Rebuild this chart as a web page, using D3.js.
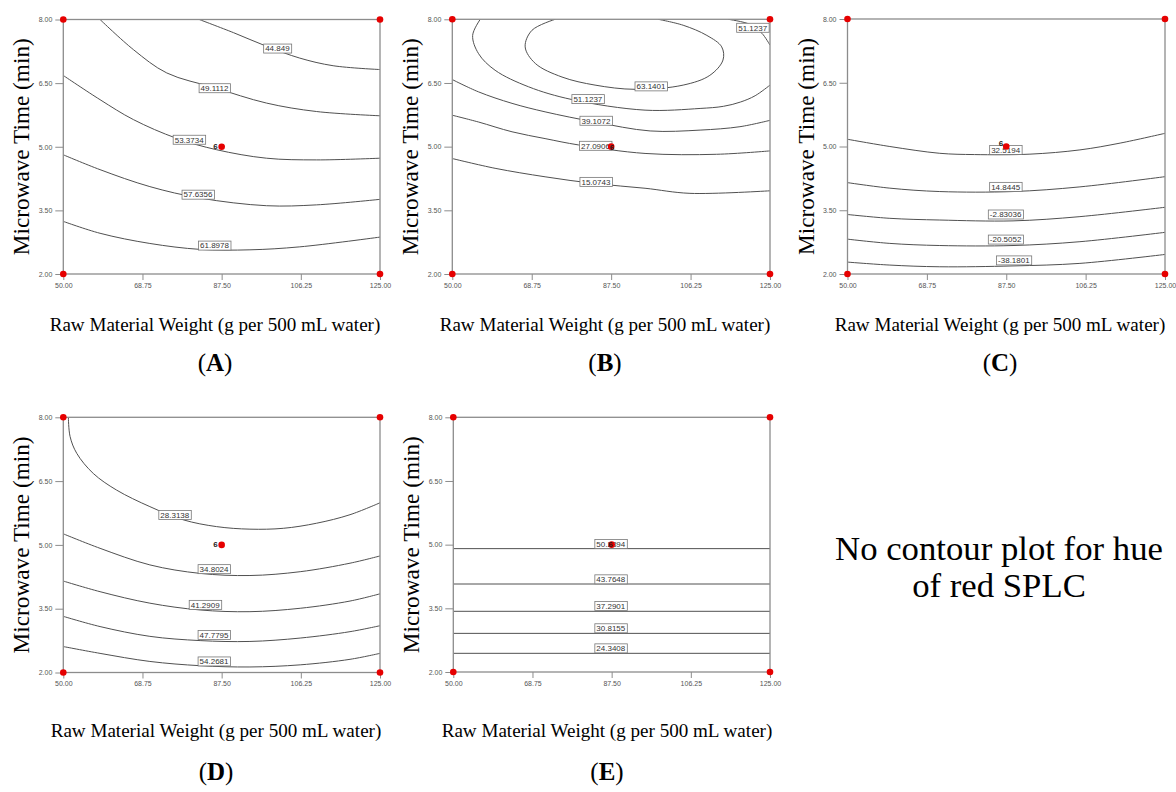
<!DOCTYPE html>
<html>
<head>
<meta charset="utf-8">
<script src="https://cdn.jsdelivr.net/npm/d3@7"></script>
<style>
  body { margin: 0; background: #fff; }
</style>
</head>
<body>
<svg id="fig" width="1176" height="792"></svg>
<script>
// axis ticks shared by all five panels
var weightTicks = [50, 68.75, 87.5, 106.25, 125],
    timeTicks = [2, 3.5, 5, 6.5, 8];

// design points (corners + centre point with 6 replicates)
var designPoints = [[50, 2], [50, 8], [125, 2], [125, 8], [87.5, 5]];
var centerRuns = "6";

// contour lines: [weight, time] pairs
var contoursA = [
  {level: "44.849",  label: [100.7, 7.315], points: [[82.2, 8], [90.3, 7.69], [98.1, 7.37], [106, 7.09], [113.9, 6.91], [125, 6.82]]},
  {level: "49.1112", label: [85.8, 6.38],   points: [[58.7, 8], [66.6, 7.29], [74.5, 6.74], [85.9, 6.39], [98.1, 6.03], [110, 5.83], [125, 5.73]]},
  {level: "53.3734", label: [79.8, 5.165],  points: [[50, 6.68], [58.7, 6.11], [66.6, 5.64], [76.8, 5.2], [86.3, 4.93], [98.1, 4.73], [110, 4.69], [125, 4.73]]},
  {level: "57.6356", label: [81.9, 3.87],   points: [[50, 4.81], [58.7, 4.46], [70.5, 4.06], [82.4, 3.79], [98.1, 3.61], [110, 3.63], [125, 3.76]]},
  {level: "61.8978", label: [85.8, 2.67],   points: [[50, 3.24], [58.7, 2.96], [70.5, 2.72], [82.4, 2.58], [94.2, 2.57], [106, 2.64], [125, 2.87]]}
];

var contoursB = [
  {level: "63.1401", label: [96.9, 6.42], points: [[74.3, 8], [68.8, 7.74], [67.2, 7.35], [69.6, 6.96], [75.9, 6.64], [83.7, 6.45], [93.2, 6.35], [104.5, 6.45], [110.8, 6.68], [113.9, 7.04], [113.6, 7.35], [110.1, 7.62], [104.5, 7.86], [98.6, 8]]},
  {level: "51.1237", label: [82.0, 6.12], points: [[56.6, 8], [54.8, 7.62], [56.2, 7.19], [60.1, 6.8], [68, 6.41], [78.2, 6.11], [95.5, 5.86], [108.5, 5.9], [114, 5.95], [118, 6.05], [121.5, 6.2], [125, 6.45]]},
  {level: "51.1237", label: [120.9, 7.8], points: [[115.1, 8], [120.3, 7.88], [123.1, 7.67], [125, 7.39]]},
  {level: "39.1072", label: [83.9, 5.61], points: [[50, 6.58], [56.2, 6.29], [64.1, 6.02], [71.9, 5.82], [83.7, 5.58], [96.7, 5.37], [108.5, 5.39], [117.9, 5.47], [125, 5.62]]},
  {level: "27.0906", label: [83.8, 5.02], points: [[50, 5.74], [56.2, 5.58], [64.1, 5.35], [71.9, 5.19], [79.8, 5.04], [95.5, 4.84], [112.4, 4.82], [125, 4.9]]},
  {level: "15.0743", label: [83.9, 4.17], points: [[50, 4.72], [60.1, 4.49], [71.9, 4.29], [83.7, 4.13], [95.5, 4.02], [106.1, 3.9], [125, 3.96]]}
];

var contoursC = [
  {level: "32.5194",  label: [87.35, 4.92], points: [[50, 5.17], [60, 5.0], [71.8, 4.84], [80, 4.81], [93.1, 4.82], [104.9, 4.92], [114.4, 5.08], [125, 5.31]]},
  {level: "14.8445",  label: [87.35, 4.05], points: [[50, 4.15], [60, 4.02], [71.8, 3.94], [89.1, 3.94], [104.9, 4.05], [125, 4.29]]},
  {level: "-2.83036", label: [87.35, 3.40], points: [[50, 3.4], [60, 3.31], [71.8, 3.27], [89.1, 3.25], [104.9, 3.35], [125, 3.57]]},
  {level: "-20.5052", label: [87.35, 2.81], points: [[50, 2.82], [60, 2.72], [71.8, 2.67], [89.1, 2.67], [104.9, 2.76], [125, 2.98]]},
  {level: "-38.1801", label: [89.3, 2.32],  points: [[50, 2.28], [60, 2.21], [71.8, 2.17], [89.1, 2.19], [104.9, 2.25], [125, 2.46]]}
];

var contoursD = [
  {level: "28.3138", label: [76.4, 5.705], points: [[51.2, 8], [51.6, 7.55], [53.2, 7.15], [57.1, 6.68], [62.6, 6.29], [70.5, 5.9], [78.4, 5.59], [86.3, 5.43], [94.2, 5.37], [102.1, 5.39], [110, 5.51], [117.9, 5.71], [125, 5.99]]},
  {level: "34.8024", label: [85.7, 4.43],  points: [[50, 5.26], [58.7, 4.92], [70.5, 4.53], [82.4, 4.33], [94.2, 4.28], [106.1, 4.37], [117.9, 4.57], [125, 4.74]]},
  {level: "41.2909", label: [83.6, 3.59],  points: [[50, 4.15], [58.7, 3.9], [70.5, 3.63], [82.4, 3.47], [94.2, 3.43], [106.1, 3.51], [117.9, 3.68], [125, 3.85]]},
  {level: "47.7795", label: [85.7, 2.88],  points: [[50, 3.32], [58.7, 3.08], [70.5, 2.85], [82.4, 2.75], [94.2, 2.73], [106.1, 2.81], [117.9, 2.96], [125, 3.1]]},
  {level: "54.2681", label: [85.7, 2.26],  points: [[50, 2.61], [58.7, 2.45], [70.5, 2.26], [82.4, 2.16], [94.2, 2.13], [106.1, 2.18], [117.9, 2.31], [125, 2.45]]}
];

var contoursE = [
  {level: "50.2394", label: [87.3, 5.016], points: [[50, 4.906], [125, 4.906]]},
  {level: "43.7648", label: [87.3, 4.183], points: [[50, 4.073], [125, 4.073]]},
  {level: "37.2901", label: [87.3, 3.555], points: [[50, 3.43], [125, 3.43]]},
  {level: "30.8155", label: [87.3, 3.03],  points: [[50, 2.91], [125, 2.91]]},
  {level: "24.3408", label: [87.3, 2.557], points: [[50, 2.44], [125, 2.44]]}
];

var xTitle = "Raw Material Weight (g per 500 mL water)",
    yTitle = "Microwave Time (min)",
    noPlotText = ["No contour plot for hue", "of red SPLC"];

var serif = "'Liberation Serif', 'DejaVu Serif', serif",
    sans = "Arial, 'Liberation Sans', sans-serif";

var svg = d3.select("#fig");

// shrink/grow a text node so it spans a given width
function fitWidth(sel, target) {
  var w = sel.node().getComputedTextLength(),
      fs = parseFloat(sel.attr("font-size"));
  sel.attr("font-size", fs * target / w);
}

function drawPanel(p) {
  var x = d3.scaleLinear().domain([50, 125]).range([p.left, p.right]),
      y = d3.scaleLinear().domain([2, 8]).range([p.bottom, p.top]),
      g = svg.append("g").attr("class", "panel");

  var clipId = "clip" + p.id;
  g.append("clipPath").attr("id", clipId)
    .append("rect")
      .attr("x", p.left).attr("y", p.top)
      .attr("width", p.right - p.left).attr("height", p.bottom - p.top);

  var line = d3.line()
      .x(function(d) { return x(d[0]); })
      .y(function(d) { return y(d[1]); })
      .curve(d3.curveCatmullRom.alpha(0.5));

  g.append("g").attr("clip-path", "url(#" + clipId + ")")
    .selectAll("path")
    .data(p.contours)
    .enter().append("path")
      .attr("d", function(d) { return line(d.points); })
      .attr("fill", "none")
      .attr("stroke", "#505050")
      .attr("stroke-width", 1);

  // frame
  g.append("rect")
      .attr("x", p.left).attr("y", p.top)
      .attr("width", p.right - p.left).attr("height", p.bottom - p.top)
      .attr("fill", "none")
      .attr("stroke", "#8c8c8c")
      .attr("stroke-width", 1.3);

  var yAxis = g.append("g")
      .attr("transform", "translate(" + p.left + ",0)")
      .call(d3.axisLeft(y).tickValues(timeTicks).tickFormat(d3.format(".2f")).tickSize(8).tickPadding(3));
  var xAxis = g.append("g")
      .attr("transform", "translate(0," + p.bottom + ")")
      .call(d3.axisBottom(x).tickValues(weightTicks).tickFormat(d3.format(".2f")).tickSize(6).tickPadding(3));
  [xAxis, yAxis].forEach(function(a) {
    a.select(".domain").remove();
    a.selectAll("line").attr("stroke", "#8c8c8c");
    a.selectAll("text").attr("font-family", sans).attr("font-size", 7).attr("fill", "#555");
  });

  // contour labels
  var labels = g.selectAll(".clabel")
    .data(p.contours)
    .enter().append("g")
      .attr("class", "clabel")
      .attr("transform", function(d) { return "translate(" + x(d.label[0]) + "," + y(d.label[1]) + ")"; });
  var lt = labels.append("text")
      .attr("text-anchor", "middle")
      .attr("dy", "0.35em")
      .attr("font-family", sans)
      .attr("font-size", 8)
      .attr("fill", "#333")
      .text(function(d) { return d.level; });
  labels.insert("rect", "text")
      .each(function() {
        var bb = this.parentNode.querySelector("text").getBBox();
        d3.select(this)
          .attr("x", bb.x - 1.5).attr("y", -4.5)
          .attr("width", bb.width + 3).attr("height", 9);
      })
      .attr("fill", "#fff")
      .attr("stroke", "#777")
      .attr("stroke-width", 0.8);

  // design points
  g.selectAll(".dp")
    .data(designPoints)
    .enter().append("circle")
      .attr("class", "dp")
      .attr("cx", function(d) { return x(d[0]); })
      .attr("cy", function(d) { return y(d[1]); })
      .attr("r", 3.3)
      .attr("fill", "#e60000");

  g.append("text")
      .attr("x", x(87.5) + p.runDx)
      .attr("y", y(5) + p.runDy)
      .attr("text-anchor", "end")
      .attr("font-family", sans)
      .attr("font-size", 8)
      .attr("font-weight", "bold")
      .attr("fill", "#222")
      .text(centerRuns);

  // axis titles
  var yt = g.append("text")
      .attr("transform", "translate(" + (p.left - 34) + "," + ((p.top + p.bottom) / 2) + ") rotate(-90)")
      .attr("text-anchor", "middle")
      .attr("font-family", serif)
      .attr("font-size", 20)
      .attr("fill", "#000")
      .text(yTitle);
  fitWidth(yt, 217);

  var xt = g.append("text")
      .attr("x", p.titleX)
      .attr("y", p.titleY)
      .attr("text-anchor", "middle")
      .attr("font-family", serif)
      .attr("font-size", 17)
      .attr("fill", "#000")
      .text(xTitle);
  fitWidth(xt, 331);

  var letter = g.append("text")
      .attr("x", p.titleX)
      .attr("y", p.letterY)
      .attr("text-anchor", "middle")
      .attr("font-family", serif)
      .attr("font-size", 25)
      .attr("fill", "#000");
  letter.append("tspan").text("(");
  letter.append("tspan").attr("font-weight", "bold").text(p.id);
  letter.append("tspan").text(")");
}

var panels = [
  {id: "A", contours: contoursA, left: 63.3,  right: 380,  top: 19.5, bottom: 274,   titleX: 215, titleY: 331, letterY: 371, runDx: -4, runDy: 2},
  {id: "B", contours: contoursB, left: 452.3, right: 770,  top: 19.3, bottom: 274,   titleX: 605, titleY: 331, letterY: 371, runDx: 3,  runDy: 3},
  {id: "C", contours: contoursC, left: 847.5, right: 1165, top: 19,   bottom: 274,   titleX: 1000, titleY: 331, letterY: 371, runDx: -3, runDy: -1},
  {id: "D", contours: contoursD, left: 63.3,  right: 380,  top: 417.3, bottom: 672.5, titleX: 216, titleY: 737, letterY: 780, runDx: -4, runDy: 2},
  {id: "E", contours: contoursE, left: 453.3, right: 770,  top: 417.3, bottom: 672,   titleX: 607, titleY: 737, letterY: 780, runDx: 1,  runDy: 2.5}
];

panels.forEach(drawPanel);

// note in place of panel F
var note = svg.append("text")
    .attr("text-anchor", "middle")
    .attr("font-family", serif)
    .attr("font-size", 24)
    .attr("fill", "#000");
note.selectAll("tspan")
  .data(noPlotText)
  .enter().append("tspan")
    .attr("x", 999)
    .attr("y", function(d, i) { return 560 + i * 37; })
    .text(function(d) { return d; });
var first = note.select("tspan").node().getComputedTextLength();
note.attr("font-size", 24 * 328 / first);
</script>
</body>
</html>
